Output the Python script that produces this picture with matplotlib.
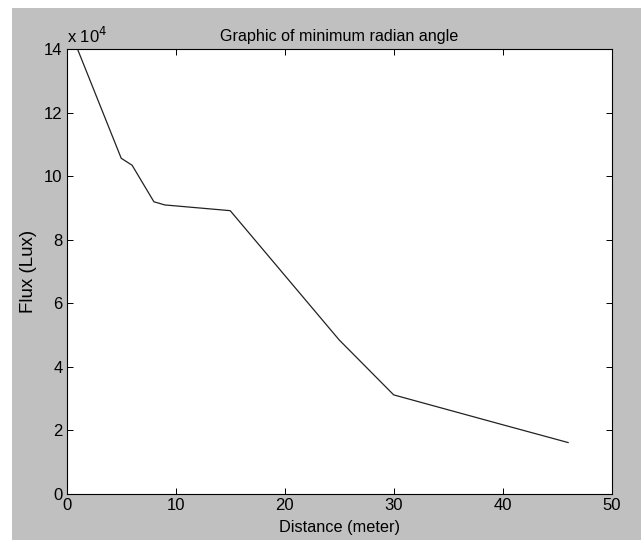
import matplotlib.pyplot as plt
from matplotlib.patches import Rectangle
from matplotlib.ticker import FuncFormatter

plt.rcParams['font.family'] = ['Liberation Sans', 'DejaVu Sans']

distance = [1, 5, 6, 8, 9, 10, 15, 25, 30, 40, 46]
flux = [140000, 105700, 103500, 92000, 91000, 90700, 89200, 48500, 31200, 21800, 16200]

xticks = [0, 10, 20, 30, 40, 50]
yticks = [0, 20000, 40000, 60000, 80000, 100000, 120000, 140000]

fig = plt.figure(figsize=(6.41, 5.40), dpi=100, facecolor="white")
# gray window background (white strip on left/top as in the screenshot)
fig.patches.append(Rectangle((12 / 641, 0), 1, 532 / 540, transform=fig.transFigure,
                             facecolor="#c0c0c0", edgecolor="none", zorder=-1))

ax = fig.add_axes([66.7 / 641, (540 - 494) / 540, 545 / 641, 444.7 / 540])
ax.plot(distance, flux, color="#222222", linewidth=0.9)

ax.set_xlim(0, 50)
ax.set_ylim(0, 140000)
ax.set_xticks(xticks)
ax.set_yticks(yticks)
ax.yaxis.set_major_formatter(FuncFormatter(lambda v, p: f"{v / 1e4:g}"))
ax.tick_params(direction="in", length=4, width=0.7, top=True, right=True,
               labelsize=12, pad=3)
for s in ax.spines.values():
    s.set_linewidth(0.8)

ax.set_title("Graphic of minimum radian angle", fontsize=11.6, pad=6)
ax.set_xlabel("Distance (meter)", fontsize=11.7, labelpad=5)
ax.set_ylabel("Flux (Lux)", fontsize=13.5, labelpad=5)
ax.text(0, 1.008, r"x 10$^{4}$", transform=ax.transAxes, fontsize=12,
        ha="left", va="bottom")

plt.savefig("out.png", dpi=100, facecolor=fig.get_facecolor())
